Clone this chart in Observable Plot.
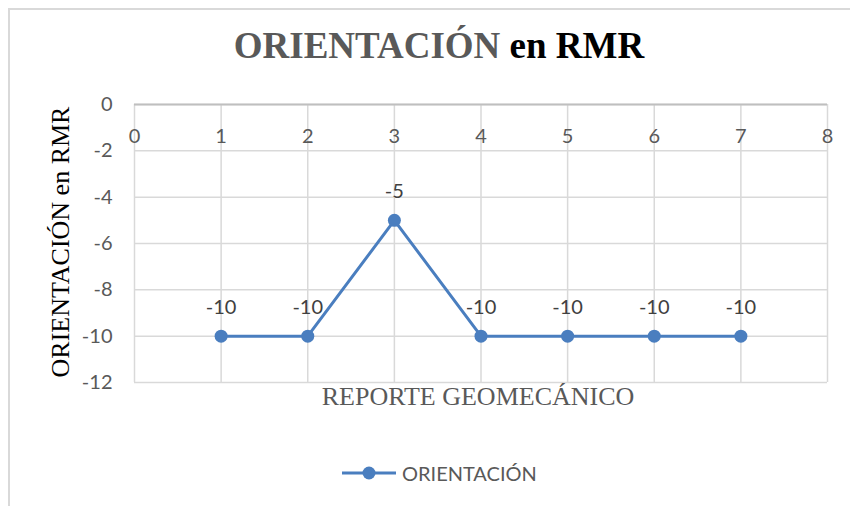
<!DOCTYPE html>
<html>
<head>
<meta charset="utf-8">
<script src="https://cdn.jsdelivr.net/npm/d3@7"></script>
<script src="https://cdn.jsdelivr.net/npm/@observablehq/plot@0.6"></script>
<style>
  html, body { margin: 0; padding: 0; background: #fff; }
  #wrap { position: relative; width: 850px; height: 506px; overflow: hidden; background: #fff; }
  #frame { position: absolute; left: 8px; top: 8px; width: 900px; height: 600px;
           border-top: 2px solid #d9d9d9; border-left: 2px solid #d9d9d9; box-sizing: border-box; }
  #chart { position: absolute; left: 0; top: 0; }
  #title { position: absolute; left: 439px; top: 27px; transform: translateX(-50%); white-space: nowrap;
           font-family: "Liberation Serif", "Times New Roman", serif; font-weight: bold; font-size: 37px; line-height: 37px; color: #000; }
  #title .g { color: #595959; }
  #legend { position: absolute; left: 340px; top: 461px; height: 24px; display: flex; align-items: center;
            font-family: Lato, sans-serif; font-size: 20px; color: #595959; white-space: nowrap; }
</style>
</head>
<body>
<div id="wrap">
  <div id="frame"></div>
  <div id="chart"></div>
  <div id="title"><span class="g">ORIENTACIÓN</span> en RMR</div>
  <div id="legend"></div>
</div>
<script>
// ---- data ----
const reportes = [1, 2, 3, 4, 5, 6, 7];
const orientacion = [-10, -10, -5, -10, -10, -10, -10];
const xTicks = [0, 1, 2, 3, 4, 5, 6, 7, 8];
const yTicks = [0, -2, -4, -6, -8, -10, -12];
const seriesName = "ORIENTACIÓN";
const chartTitle = "ORIENTACIÓN en RMR";
const xTitle = "REPORTE GEOMECÁNICO";
const yTitle = "ORIENTACIÓN en RMR";

const data = reportes.map((r, i) => ({x: r, y: orientacion[i]}));
const blue = "#4A7EBF";

const chart = Plot.plot({
  width: 850,
  height: 506,
  marginTop: 104,
  marginLeft: 134,
  marginRight: 23,
  marginBottom: 124,
  style: {fontFamily: "Lato, sans-serif", fontSize: "20px", color: "#595959", background: "transparent"},
  x: {domain: [0, 8]},
  y: {domain: [-12, 0]},
  marks: [
    Plot.gridX(xTicks, {stroke: "#d9d9d9", strokeOpacity: 1, strokeWidth: 1.5}),
    Plot.gridY(yTicks, {stroke: "#d9d9d9", strokeOpacity: 1, strokeWidth: 1.5}),
    Plot.ruleY([0], {stroke: "#bfbfbf", strokeWidth: 2}),
    Plot.axisX({anchor: "top", ticks: xTicks, tickSize: 0, tickPadding: -32, lineAnchor: "middle", label: null, tickFormat: d => String(d)}),
    Plot.axisY({anchor: "left", ticks: yTicks, tickSize: 0, tickPadding: 22, label: null, tickFormat: d => String(d)}),
    Plot.line(data, {x: "x", y: "y", stroke: blue, strokeWidth: 3}),
    Plot.dot(data, {x: "x", y: "y", r: 6.5, fill: blue, stroke: "none"}),
    Plot.text(data, {x: "x", y: "y", text: d => String(d.y), dy: -29, fill: "#404040", fontSize: 20}),
    Plot.text([xTitle], {frameAnchor: "bottom", dy: 22, dx: -3, fill: "#595959", fontSize: 26,
      fontFamily: "Liberation Serif, Times New Roman, serif"}),
    Plot.text([yTitle], {frameAnchor: "left", textAnchor: "middle", dx: -74, dy: -1.5, rotate: -90, fill: "#000", fontSize: 26,
      fontFamily: "Liberation Serif, Times New Roman, serif"})
  ]
});
document.getElementById("chart").appendChild(chart);

// legend
const leg = document.getElementById("legend");
leg.innerHTML = `<svg width="58" height="24" style="margin-right:4px"><line x1="2" y1="12" x2="56" y2="12" stroke="${blue}" stroke-width="3"/><circle cx="29" cy="12" r="6.5" fill="${blue}"/></svg><span>${seriesName}</span>`;
</script>
</body>
</html>
